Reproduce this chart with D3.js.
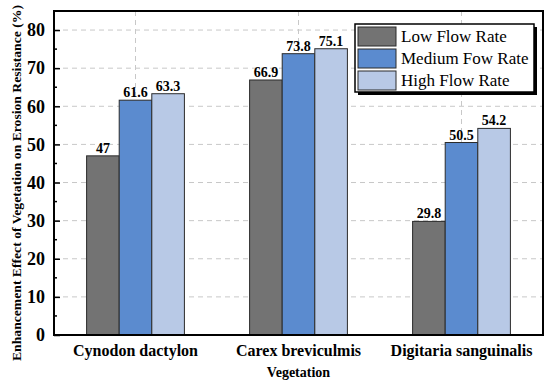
<!DOCTYPE html>
<html>
<head>
<meta charset="utf-8">
<script src="https://cdn.jsdelivr.net/npm/d3@7"></script>
<style>
	body { margin: 0; background: #fff; }
	svg text { font-family: "Liberation Serif", "Times New Roman", Tinos, "DejaVu Serif", serif !important; }
</style>
</head>
<body>
<svg id="chart" width="550" height="384"></svg>
<script>
/* grouped bars, three flow rates per vegetation */

const categories = ['Cynodon dactylon', 'Carex breviculmis', 'Digitaria sanguinalis'];
const seriesNames = ['Low Flow Rate', 'Medium Fow Rate', 'High Flow Rate'];
const lowFlow = [47, 66.9, 29.8];
const mediumFlow = [61.6, 73.8, 50.5];
const highFlow = [63.3, 75.1, 54.2];
const yTicks = [0, 10, 20, 30, 40, 50, 60, 70, 80];
const colors = ['#737373', '#5b8bcf', '#b8c9e6'];

let svg = d3.select('#chart'),
	margin = {top: 11, right: 7, bottom: 49, left: 54},
	width = 550 - margin.left - margin.right,
	height = 384 - margin.top - margin.bottom,
	series = [lowFlow, mediumFlow, highFlow],
	g = svg.append('g').attr('transform', 'translate(' + margin.left + ',' + margin.top + ')');

let x = d3.scaleBand().domain(categories).range([0, width]).padding(0),
	groupW = x.bandwidth() * 0.6,
	x1 = d3.scaleBand().domain(d3.range(series.length)).range([0, groupW]).padding(0),
	y = d3.scaleLinear().domain([0, 85]).range([height, 0]);

// grid
g.selectAll('.hgrid')
	.data(yTicks.filter(function(d) { return d > 0; }))
	.enter().append('line')
		.attr('x1', 0).attr('x2', width)
		.attr('y1', function(d) { return y(d); })
		.attr('y2', function(d) { return y(d); })
		.attr('stroke', '#c8c8c8')
		.attr('stroke-dasharray', '5,4');

g.selectAll('.vgrid')
	.data(categories)
	.enter().append('line')
		.attr('x1', function(d) { return x(d) + x.bandwidth() / 2; })
		.attr('x2', function(d) { return x(d) + x.bandwidth() / 2; })
		.attr('y1', 0).attr('y2', height)
		.attr('stroke', '#c8c8c8')
		.attr('stroke-dasharray', '5,4');

// bars
let groups = g.selectAll('.grp')
	.data(categories)
	.enter().append('g')
		.attr('transform', function(d) { return 'translate(' + (x(d) + (x.bandwidth() - groupW) / 2) + ',0)'; });

groups.selectAll('rect')
	.data(function(d, i) { return series.map(function(s, k) { return {k: k, v: s[i]}; }); })
	.enter().append('rect')
		.attr('x', function(d) { return x1(d.k); })
		.attr('width', x1.bandwidth())
		.attr('y', function(d) { return y(d.v); })
		.attr('height', function(d) { return height - y(d.v); })
		.attr('fill', function(d) { return colors[d.k]; })
		.attr('stroke', '#2b2b2b')
		.attr('stroke-width', 1);

groups.selectAll('.lbl')
	.data(function(d, i) { return series.map(function(s, k) { return {k: k, v: s[i]}; }); })
	.enter().append('text')
		.attr('x', function(d) { return x1(d.k) + x1.bandwidth() / 2; })
		.attr('y', function(d) { return y(d.v) - 3; })
		.attr('text-anchor', 'middle')
		.style('font-size', '14px')
		.style('font-weight', 'bold')
		.text(function(d) { return d.v; });

// axes
let yAxis = g.append('g')
	.call(d3.axisLeft(y).tickValues(yTicks).tickSize(-6).tickPadding(9).tickFormat(d3.format('d')));
yAxis.attr('font-family', null);
yAxis.select('.domain').remove();
yAxis.selectAll('.tick line').attr('stroke-width', 1.5);
yAxis.selectAll('text').style('font-size', '18px').style('font-weight', 'bold');

g.append('g')
	.selectAll('line')
	.data(d3.range(5, 85, 10))
	.enter().append('line')
		.attr('x1', 0).attr('x2', 3)
		.attr('y1', function(d) { return y(d); })
		.attr('y2', function(d) { return y(d); })
		.attr('stroke', '#000')
		.attr('stroke-width', 1.5);

let xAxis = g.append('g')
	.attr('transform', 'translate(0,' + height + ')')
	.call(d3.axisBottom(x).tickSize(0).tickPadding(10));
xAxis.attr('font-family', null);
xAxis.select('.domain').remove();
xAxis.selectAll('text').style('font-size', '16px').style('font-weight', 'bold');

// frame
g.append('rect')
	.attr('width', width).attr('height', height)
	.attr('fill', 'none')
	.attr('stroke', '#000')
	.attr('stroke-width', 2);

// titles
svg.append('text')
	.attr('x', margin.left + width / 2)
	.attr('y', 377)
	.attr('text-anchor', 'middle')
	.style('font-size', '14px')
	.style('font-weight', 'bold')
	.text('Vegetation');

svg.append('text')
	.attr('transform', 'translate(21,183) rotate(-90)')
	.attr('text-anchor', 'middle')
	.attr('textLength', 356)
	.attr('lengthAdjust', 'spacingAndGlyphs')
	.style('font-size', '13px')
	.style('font-weight', 'bold')
	.text('Enhancement Effect of Vegetation on Erosion Resistance (%)');

// legend
let lx = 355, ly = 24, lw = 179, lh = 68;
svg.append('rect')
	.attr('x', lx + 3).attr('y', ly + 3)
	.attr('width', lw).attr('height', lh)
	.attr('fill', '#000');
svg.append('rect')
	.attr('x', lx).attr('y', ly)
	.attr('width', lw).attr('height', lh)
	.attr('fill', '#fff')
	.attr('stroke', '#000')
	.attr('stroke-width', 1.5);

let leg = svg.selectAll('.leg')
	.data(seriesNames)
	.enter().append('g')
		.attr('transform', function(d, i) { return 'translate(' + (lx + 3) + ',' + (ly + 3 + i * 22) + ')'; });
leg.append('rect')
	.attr('width', 38).attr('height', 19)
	.attr('fill', function(d, i) { return colors[i]; })
	.attr('stroke', '#2b2b2b')
	.attr('stroke-width', 1);
leg.append('text')
	.attr('x', 43).attr('y', 15)
	.style('font-size', '17px')
	.text(function(d) { return d; });
</script>
</body>
</html>
